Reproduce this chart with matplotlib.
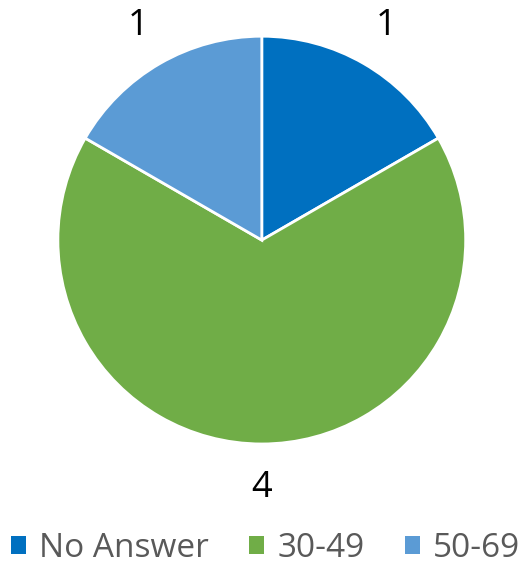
import matplotlib.pyplot as plt
from matplotlib.patches import Patch

categories = ["No Answer", "30-49", "50-69"]
counts = [1, 4, 1]
colors = ["#0070C0", "#70AD47", "#5B9BD5"]

plt.rcParams['font.family'] = ['Open Sans', 'DejaVu Sans']

fig = plt.figure(figsize=(5.31, 5.64), dpi=100)
ax = fig.add_axes([0.109, 0.2128, 0.768, 0.723])

wedges, texts = ax.pie(
    counts,
    labels=[str(c) for c in counts],
    colors=colors,
    startangle=90,
    counterclock=False,
    labeldistance=1.215,
    wedgeprops=dict(edgecolor="white", linewidth=2),
    textprops=dict(fontsize=26, color="black"),
)
for t in texts:
    t.set_ha("center")
    t.set_va("center")
    t.set_clip_on(False)
ax.set_xlim(-1, 1)
ax.set_ylim(-1, 1)
ax.set_aspect("equal")

handles = [Patch(facecolor=c, edgecolor="none") for c in colors]
leg = fig.legend(
    handles, categories,
    loc="center", bbox_to_anchor=(0.5, 0.027),
    ncol=3, frameon=False, fontsize=24,
    handlelength=0.45, handleheight=0.45, handletextpad=0.4,
    columnspacing=1.2, borderpad=0, borderaxespad=0,
)
for t in leg.get_texts():
    t.set_color("#595959")

fig.savefig("out.png", dpi=100)
